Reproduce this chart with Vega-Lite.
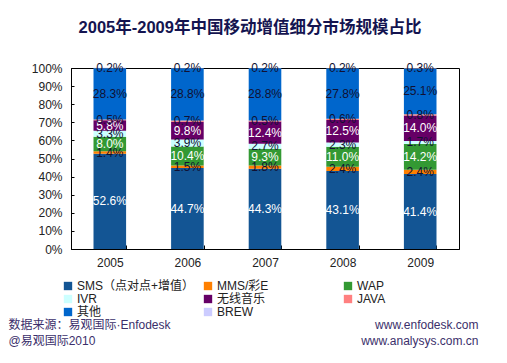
{
  "$schema": "https://vega.github.io/schema/vega-lite/v6.json",
  "width": 388,
  "height": 181,
  "autosize": {"type": "none"},
  "padding": {"left": 71, "top": 68, "right": 48, "bottom": 114},
  "background": "white",
  "title": {
    "text": "2005年-2009年中国移动增值细分市场规模占比",
    "font": "Liberation Sans, Noto Sans CJK SC",
    "fontSize": 16.5,
    "fontWeight": "bold",
    "color": "#141450",
    "anchor": "middle",
    "frame": "group",
    "dx": -15,
    "baseline": "alphabetic",
    "offset": 13
  },
  "data": {
    "values": [
      {"year": "2005", "series": "SMS（点对点+增值）", "v": 0.526},
      {"year": "2005", "series": "MMS/彩E", "v": 0.014},
      {"year": "2005", "series": "WAP", "v": 0.080},
      {"year": "2005", "series": "IVR", "v": 0.033},
      {"year": "2005", "series": "无线音乐", "v": 0.058},
      {"year": "2005", "series": "JAVA", "v": 0.005},
      {"year": "2005", "series": "其他", "v": 0.283},
      {"year": "2005", "series": "BREW", "v": 0.002},
      {"year": "2006", "series": "SMS（点对点+增值）", "v": 0.447},
      {"year": "2006", "series": "MMS/彩E", "v": 0.015},
      {"year": "2006", "series": "WAP", "v": 0.104},
      {"year": "2006", "series": "IVR", "v": 0.039},
      {"year": "2006", "series": "无线音乐", "v": 0.098},
      {"year": "2006", "series": "JAVA", "v": 0.007},
      {"year": "2006", "series": "其他", "v": 0.288},
      {"year": "2006", "series": "BREW", "v": 0.002},
      {"year": "2007", "series": "SMS（点对点+增值）", "v": 0.443},
      {"year": "2007", "series": "MMS/彩E", "v": 0.018},
      {"year": "2007", "series": "WAP", "v": 0.093},
      {"year": "2007", "series": "IVR", "v": 0.027},
      {"year": "2007", "series": "无线音乐", "v": 0.124},
      {"year": "2007", "series": "JAVA", "v": 0.005},
      {"year": "2007", "series": "其他", "v": 0.288},
      {"year": "2007", "series": "BREW", "v": 0.002},
      {"year": "2008", "series": "SMS（点对点+增值）", "v": 0.431},
      {"year": "2008", "series": "MMS/彩E", "v": 0.024},
      {"year": "2008", "series": "WAP", "v": 0.110},
      {"year": "2008", "series": "IVR", "v": 0.023},
      {"year": "2008", "series": "无线音乐", "v": 0.125},
      {"year": "2008", "series": "JAVA", "v": 0.006},
      {"year": "2008", "series": "其他", "v": 0.278},
      {"year": "2008", "series": "BREW", "v": 0.002},
      {"year": "2009", "series": "SMS（点对点+增值）", "v": 0.414},
      {"year": "2009", "series": "MMS/彩E", "v": 0.024},
      {"year": "2009", "series": "WAP", "v": 0.142},
      {"year": "2009", "series": "IVR", "v": 0.017},
      {"year": "2009", "series": "无线音乐", "v": 0.140},
      {"year": "2009", "series": "JAVA", "v": 0.008},
      {"year": "2009", "series": "其他", "v": 0.251},
      {"year": "2009", "series": "BREW", "v": 0.003}
    ]
  },
  "encoding": {
    "x": {
      "field": "year",
      "type": "nominal",
      "scale": {"paddingInner": 0.58, "paddingOuter": 0.29},
      "axis": {
        "labelAngle": 0,
        "labelFontSize": 12,
        "labelColor": "#222222",
        "labelPadding": 12,
        "tickBand": "extent",
        "tickSize": -4,
        "tickColor": "black",
        "domainColor": "black",
        "title": ["数据来源：易观国际·Enfodesk", "@易观国际2010"],
        "titleX": -63,
        "titleY": 70,
        "titleAlign": "left",
        "titleAnchor": "start",
        "titleBaseline": "top",
        "titleFontSize": 12,
        "titleFontWeight": "normal",
        "titleColor": "#3B2F6B",
        "titleLineHeight": 16
      }
    },
    "y": {
      "field": "v",
      "type": "quantitative",
      "stack": "zero",
      "scale": {"domain": [0, 1], "nice": false},
      "axis": {
        "values": [0, 0.1, 0.2, 0.3, 0.4, 0.5, 0.6, 0.7, 0.8, 0.9, 1],
        "format": ".0%",
        "grid": false,
        "labelFontSize": 12,
        "labelColor": "#222222",
        "labelPadding": 12,
        "tickSize": -3,
        "tickColor": "black",
        "domainColor": "black",
        "title": ["www.enfodesk.com", "www.analysys.com.cn"],
        "titleAngle": 0,
        "titleX": 407,
        "titleY": 251,
        "titleAlign": "right",
        "titleAnchor": "start",
        "titleBaseline": "top",
        "titleFontSize": 12,
        "titleFontWeight": "normal",
        "titleColor": "#3B2F6B",
        "titleLineHeight": 16
      }
    },
    "order": {"field": "ord", "type": "quantitative"}
  },
  "layer": [
    {
      "mark": {"type": "bar"},
      "encoding": {
        "color": {
          "field": "series",
          "type": "nominal",
          "sort": ["SMS（点对点+增值）", "MMS/彩E", "WAP", "IVR", "无线音乐", "JAVA", "其他", "BREW"],
          "scale": {
            "domain": ["SMS（点对点+增值）", "MMS/彩E", "WAP", "IVR", "无线音乐", "JAVA", "其他", "BREW"],
            "range": ["#135594", "#FF8000", "#339933", "#CCFFFF", "#660066", "#FF8080", "#0066CC", "#CCCCFF"]
          },
          "legend": {
            "orient": "none",
            "direction": "horizontal",
            "legendX": -9,
            "legendY": 212,
            "columns": 3,
            "gridAlign": "all",
            "columnPadding": 7,
            "rowPadding": 1,
            "title": null,
            "symbolType": "square",
            "symbolSize": 70,
            "symbolStrokeWidth": 0,
            "labelFontSize": 12,
            "labelColor": "#222222",
            "labelOffset": 3
          }
        }
      }
    },
    {
      "mark": {"type": "text", "fontSize": 12, "font": "Liberation Sans"},
      "encoding": {
        "y": {"field": "v", "type": "quantitative", "stack": "zero", "bandPosition": 0.5},
        "detail": {"field": "series"},
        "text": {"field": "v", "type": "quantitative", "format": ".1%"},
        "color": {
          "condition": {"test": "datum.series === 'SMS（点对点+增值）' || datum.series === 'WAP' || datum.series === '无线音乐'", "value": "white"},
          "value": "#111133"
        }
      }
    }
  ],
  "config": {
    "font": "Liberation Sans, Noto Sans CJK SC",
    "view": {"stroke": "black", "strokeWidth": 1}
  }
}
